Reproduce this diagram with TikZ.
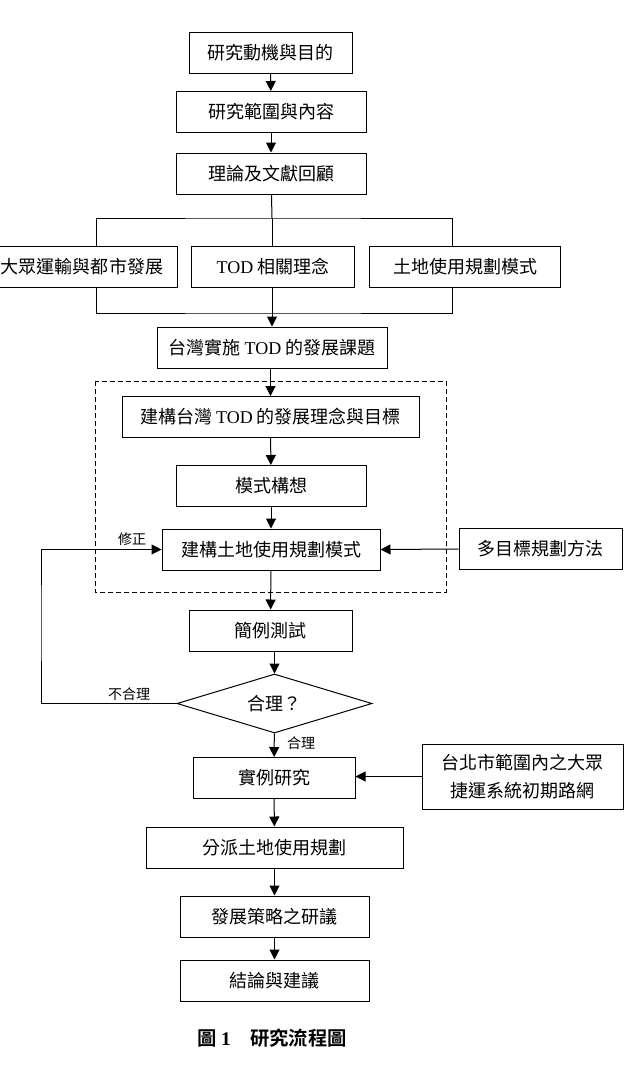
\documentclass[tikz,border=0pt]{standalone}
\usepackage{fontspec}
\setmainfont{Liberation Serif}
\newfontfamily\cjk{Noto Sans CJK TC}[BoldFont={Noto Sans CJK TC Bold}]
\usetikzlibrary{
    shapes.geometric,
    arrows.meta,
    positioning,
    calc
}
\tikzset{
    % Base style for all boxes
    flow base/.style={
        font=\cjk\fontsize{13.5}{16}\selectfont,
        align=center,
        text=black,
        line width=0.75pt,
        inner sep=2pt,
    },
    % Process boxes - plain rectangle
    process/.style={
        flow base,
        rectangle,
        draw,
        minimum height=30.75pt,
    },
    % Decision diamond
    decision/.style={
        flow base,
        diamond,
        draw,
        aspect=3.3,
        inner sep=0pt,
        minimum width=146.25pt,
        minimum height=44.25pt,
    },
    % Connector with filled tip
    arrow/.style={
        -{Triangle[length=7.5pt, width=7.5pt]},
        line width=0.75pt,
    },
    % Plain connector
    link/.style={
        line width=0.75pt,
    },
    % Dashed group frame
    group frame/.style={
        dash pattern=on 3.5pt off 2.5pt,
        line width=0.75pt,
    },
    % Small labels on connectors
    edge label/.style={
        font=\cjk\fontsize{10.5}{12}\selectfont,
        inner sep=1pt,
    },
}

\begin{document}
\begin{tikzpicture}[x=0.75pt, y=-0.75pt]
    \useasboundingbox (0,0) rectangle (629,1085);

    \node (motive) [process, minimum width=122.25pt] at (270.5,53) {研究動機與目的};
    \node (scope) [process, minimum width=142.5pt] at (271,112) {研究範圍與內容};
    \node (review) [process, minimum width=142.5pt] at (271,173.5) {理論及文獻回顧};

    \node (transit) [process, minimum width=142.5pt] at (82,266.5) {大眾運輸與都市發展};
    \node (todidea) [process, minimum width=122.25pt] at (273,266.5) {{\rmfamily TOD} 相關理念};
    \node (landuse) [process, minimum width=143.25pt] at (465,266.5) {土地使用規劃模式};

    \node (issue) [process, minimum width=172.5pt] at (272,347.5) {台灣實施 {\rmfamily TOD} 的發展課題};

    \node (concept) [process, minimum width=222.75pt] at (270.5,417) {建構台灣 {\rmfamily TOD} 的發展理念與目標};
    \node (model) [process, minimum width=142.5pt] at (271,486) {模式構想};
    \node (build) [process, minimum width=163.5pt] at (271,549.5) {建構土地使用規劃模式};
    \node (multiobj) [process, minimum width=122.25pt] at (540.5,549) {多目標規劃方法};

    \node (test) [process, minimum width=122.25pt] at (270.5,630.5) {簡例測試};
    \node (check) [decision] at (274.5,703.5) {合理？};

    \node (case) [process, minimum width=121.5pt] at (274,778) {實例研究};
    \node (network) [process, minimum width=150.75pt, minimum height=48.75pt,
        font=\cjk\fontsize{13.5}{21}\selectfont] at (522.5,776.5) {台北市範圍內之大眾\\捷運系統初期路網};

    \node (assign) [process, minimum width=192.75pt] at (274.5,847.5) {分派土地使用規劃};
    \node (strategy) [process, minimum width=141.75pt] at (274.5,916.5) {發展策略之研議};
    \node (conclusion) [process, minimum width=141.75pt] at (274.5,980.5) {結論與建議};

    \node (caption) [font=\cjk\fontsize{14.5}{17}\selectfont\bfseries] at (272,1038)
        {圖 {\rmfamily 1}\hspace{1em}研究流程圖};

    % dashed frame round the modelling steps
    \draw [group frame] (95,381) rectangle (446,592);

    \draw [arrow] (motive) -- (scope);
    \draw [arrow] (scope) -- (review);

    % split into the three themes
    \coordinate (split) at (272,218);
    \coordinate (join) at (272,313);
    \draw [link] (review) -- (split);
    \draw [link] ([xshift=10.5pt]transit.north) |- (split) -| ([xshift=-9.75pt]landuse.north);
    \draw [link] (split) -- (split |- todidea.north);
    \draw [link] ([xshift=10.5pt]transit.south) |- (join) -| ([xshift=-9.75pt]landuse.south);
    \draw [arrow] (todidea.south -| join) -- (join |- issue.north);

    \draw [arrow] (issue.south -| concept) -- (concept);
    \draw [arrow] (concept) -- (model);
    \draw [arrow] (model) -- (build);
    \draw [arrow] (multiobj.west) -- (build.east);
    \draw [arrow] (build) -- (test);
    \draw [arrow] (test.south -| check) -- (check);

    % feedback loop
    \coordinate (loop) at (41,620);
    \draw [arrow] (check.west) -| (loop) |- (build.west);
    \node [edge label] at (132,539) {修正};
    \node [edge label] at (129,694) {不合理};

    \draw [arrow] (check) -- (case);
    \node [edge label] at (301,743) {合理};
    \draw [arrow] (network.west) -- (network.west -| case.east);
    \draw [arrow] (case) -- (assign);
    \draw [arrow] (assign) -- (strategy);
    \draw [arrow] (strategy) -- (conclusion);
\end{tikzpicture}
\end{document}
